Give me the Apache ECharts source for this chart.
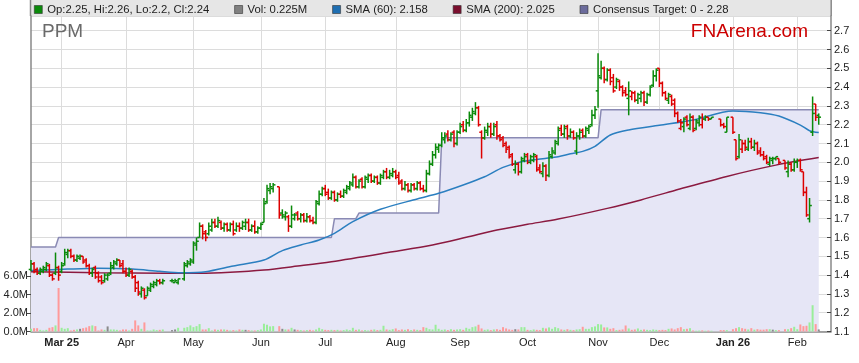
<!DOCTYPE html>
<html><head><meta charset="utf-8">
<script src="https://cdn.jsdelivr.net/npm/echarts@6/dist/echarts.min.js"></script>
<style>html,body{margin:0;padding:0;background:#fff}#c{width:859px;height:363px}</style>
</head><body><div id="c"></div>
<script>
// ---------- data ----------
const ticker = 'PPM';
const firstDate = '2025-02-17';
const categoryCount = 262;
const holidays = ['2025-04-18','2025-04-21','2025-04-25','2025-06-09','2025-12-25','2025-12-26','2026-01-01','2026-01-26'];
const monthTickDates = ['2025-03-03','2025-04-01','2025-05-01','2025-06-02','2025-07-01','2025-08-01','2025-09-01','2025-10-01','2025-11-03','2025-12-01','2026-01-02','2026-02-02'];
const monthTickLabels = ['Mar 25','Apr','May','Jun','Jul','Aug','Sep','Oct','Nov','Dec','Jan 26','Feb'];
const priceTicks = [1.1,1.2,1.3,1.4,1.5,1.6,1.7,1.8,1.9,2.0,2.1,2.2,2.3,2.4,2.5,2.6,2.7];
const volumeTicks = [0,2,4,6];

const openPx = [
1.43,1.46,1.43,1.41,1.42, 1.43,1.45,1.40,1.41,1.44, 1.42,1.46,1.51,1.53,1.50, 1.48,1.49,1.50,1.48,1.45,
1.41,1.44,1.41,1.39,1.37, 1.38,1.41,1.44,1.46,1.48, 1.46,1.42,1.40,1.42,1.39, 1.36,1.30,1.32,1.29,1.32,
1.34,1.35,1.37,1.36,null, null,1.37,1.36,1.36,null, 1.38,1.45,1.46,1.47,1.56, 1.60,1.66,1.63,1.62,1.64,
1.68,1.66,1.68,1.65,1.67, 1.64,1.67,1.64,1.66,1.65, 1.66,1.68,1.64,1.66,1.63, 1.65,1.68,1.79,1.85,1.86,
null,1.87,1.73,1.71,1.71, 1.66,1.70,1.73,1.70,1.72, 1.69,1.71,1.69,1.68,1.78, 1.83,1.86,1.84,1.81,1.84,
1.80,1.83,1.82,1.84,1.86, 1.88,1.92,1.87,1.91,1.87, 1.91,1.93,1.90,1.92,1.89, 1.92,1.95,1.92,1.93,1.95,
1.93,1.90,1.86,1.88,1.85, 1.88,1.86,1.89,1.86,1.85, 1.94,1.99,2.04,2.07,2.09, 2.12,2.15,2.12,2.16,2.10,
2.16,2.20,2.17,2.21,2.24, 2.26,2.29,2.16,2.13,2.16, 2.19,2.15,2.20,2.14,2.13, 2.10,2.08,2.04,1.96,1.99,
1.95,2.01,2.04,2.00,2.01, 2.03,1.97,1.94,1.98,1.93, 2.03,2.05,2.10,2.18,2.15, 2.19,2.14,2.16,2.06,2.14,
2.17,2.14,2.17,2.20,2.25, 2.38,2.45,2.50,2.44,2.49, 2.45,2.40,2.43,2.40,2.38, 2.34,2.35,2.37,2.33,2.34,
2.37,2.32,2.36,2.41,2.46, 2.50,2.42,2.37,2.33,2.35, 2.33,2.26,2.18,2.19,2.24, 2.18,2.24,2.18,2.21,2.20,
2.23,2.24,2.23,null,null, 2.23,2.20,2.16,null,2.24, 2.12,2.03,2.07,2.10,2.07, 2.11,2.08,2.10,2.06,2.04,
2.03,1.99,2.01,2.02,2.02, null,2.01,1.95,1.99,1.96, 2.00,2.01,1.95,1.84,1.70, 2.16,2.31,2.25];
const highPx = [
1.48,1.47,1.44,1.44,1.45, 1.47,1.46,1.41,1.52,1.45, 1.47,1.54,1.54,1.54,1.51, 1.51,1.51,1.50,1.49,1.46,
1.44,1.45,1.42,1.40,1.41, 1.41,1.47,1.48,1.49,1.48, 1.48,1.44,1.44,1.43,1.40, 1.37,1.34,1.33,1.34,1.36,
1.37,1.38,1.38,1.38,null, null,1.38,1.38,1.38,null, 1.47,1.48,1.49,1.58,1.60, 1.68,1.67,1.64,1.68,1.70,
1.70,1.71,1.69,1.68,1.68, 1.68,1.69,1.68,1.68,1.69, 1.70,1.70,1.67,1.69,1.66, 1.68,1.81,1.88,1.89,1.89,
null,1.87,1.75,1.74,1.72, 1.77,1.73,1.74,1.73,1.73, 1.73,1.72,1.71,1.80,1.85, 1.87,1.88,1.86,1.85,1.85,
1.84,1.85,1.86,1.88,1.90, 1.94,1.93,1.91,1.92,1.93, 1.94,1.94,1.93,1.93,1.94, 1.96,1.97,1.96,1.97,1.96,
1.95,1.91,1.90,1.89,1.89, 1.89,1.90,1.90,1.88,1.96, 2.01,2.06,2.10,2.10,2.16, 2.16,2.17,2.16,2.17,2.17,
2.21,2.22,2.23,2.27,2.29, 2.32,2.30,2.17,2.19,2.21, 2.21,2.21,2.22,2.15,2.14, 2.11,2.09,2.05,2.01,2.00,
2.03,2.05,2.05,2.04,2.05, 2.04,1.99,2.00,1.99,2.06, 2.08,2.12,2.19,2.20,2.20, 2.20,2.18,2.17,2.16,2.18,
2.18,2.19,2.20,2.28,2.30, 2.58,2.54,2.51,2.50,2.50, 2.47,2.45,2.44,2.41,2.40, 2.43,2.38,2.38,2.37,2.38,
2.38,2.37,2.41,2.49,2.50, 2.50,2.43,2.38,2.37,2.36, 2.34,2.27,2.23,2.24,2.25, 2.26,2.25,2.23,2.25,2.26,
2.25,2.24,2.24,null,null, 2.23,2.21,2.24,null,2.24, 2.12,2.15,2.12,2.12,2.13, 2.13,2.12,2.11,2.08,2.06,
2.04,2.03,2.03,2.03,2.02, null,2.01,2.01,2.00,2.02, 2.02,2.02,1.95,1.87,1.81, 2.35,2.31,2.26];
const lowPx = [
1.42,1.41,1.40,1.40,1.41, 1.42,1.39,1.37,1.40,1.37, 1.41,1.45,1.49,1.49,1.47, 1.47,1.48,1.46,1.44,1.40,
1.39,1.38,1.36,1.35,1.36, 1.37,1.40,1.43,1.45,1.44, 1.41,1.39,1.39,1.38,1.31, 1.29,1.28,1.27,1.29,1.31,
1.33,1.34,1.35,1.35,null, null,1.36,1.36,1.35,null, 1.37,1.44,1.45,1.46,1.53, 1.60,1.59,1.58,1.61,1.63,
1.65,1.65,1.64,1.63,1.63, 1.63,1.61,1.63,1.63,1.64, 1.64,1.63,1.63,1.62,1.62, 1.64,1.68,1.78,1.83,1.84,
null,1.70,1.70,1.69,1.63, 1.65,1.69,1.69,1.68,1.68, 1.68,1.68,1.67,1.67,1.77, 1.82,1.82,1.80,1.80,1.79,
1.79,1.81,1.81,1.83,1.85, 1.87,1.86,1.86,1.86,1.86, 1.89,1.89,1.89,1.88,1.88, 1.91,1.91,1.91,1.92,1.91,
1.88,1.85,1.85,1.84,1.84, 1.85,1.85,1.85,1.84,1.84, 1.93,1.98,2.02,2.05,2.08, 2.10,2.11,2.11,2.08,2.09,
2.15,2.16,2.16,2.19,2.22, 2.25,2.19,2.02,2.12,2.14, 2.13,2.14,2.12,2.11,2.08, 2.05,2.02,1.98,1.94,1.93,
1.94,2.00,1.99,1.99,2.00, 1.95,1.94,1.92,1.90,1.92, 2.02,2.04,2.09,2.14,2.13, 2.12,2.13,2.12,2.04,2.12,
2.13,2.13,2.15,2.19,2.23, 2.29,2.44,2.42,2.43,2.41, 2.37,2.39,2.38,2.35,2.35, 2.25,2.33,2.32,2.31,2.32,
2.30,2.31,2.35,2.40,2.43, 2.40,2.35,2.33,2.31,2.30, 2.24,2.21,2.17,2.16,2.19, 2.17,2.16,2.17,2.19,2.18,
2.22,2.22,2.23,null,null, 2.19,2.18,2.16,null,2.15, 2.01,2.02,2.05,2.06,2.06, 2.07,2.06,2.04,2.03,2.01,
1.99,1.98,1.99,2.01,1.99, null,1.96,1.92,1.95,1.95, 1.97,1.95,1.82,1.71,1.68, 2.14,2.22,2.20];
const closePx = [
1.46,1.42,1.41,1.43,1.44, 1.46,1.40,1.38,1.44,1.40, 1.45,1.52,1.53,1.50,1.48, 1.50,1.50,1.47,1.45,1.41,
1.43,1.39,1.37,1.36,1.40, 1.40,1.45,1.47,1.48,1.45, 1.42,1.40,1.43,1.39,1.33, 1.31,1.33,1.28,1.33,1.35,
1.36,1.37,1.36,1.37,null, null,1.37,1.37,1.38,null, 1.46,1.47,1.48,1.57,1.58, 1.66,1.62,1.60,1.66,1.68,
1.66,1.69,1.65,1.67,1.64, 1.67,1.62,1.66,1.65,1.68, 1.68,1.64,1.66,1.63,1.65, 1.67,1.78,1.86,1.87,1.88,
null,1.72,1.72,1.73,1.66, 1.72,1.72,1.70,1.72,1.69, 1.71,1.69,1.68,1.79,1.83, 1.86,1.83,1.81,1.84,1.80,
1.83,1.82,1.85,1.87,1.89, 1.92,1.87,1.90,1.87,1.92, 1.93,1.90,1.92,1.89,1.93, 1.95,1.92,1.94,1.95,1.92,
1.89,1.86,1.88,1.85,1.88, 1.86,1.89,1.86,1.85,1.94, 1.99,2.04,2.08,2.09,2.13, 2.14,2.12,2.15,2.10,2.16,
2.19,2.17,2.21,2.25,2.27, 2.29,2.20,2.13,2.17,2.19, 2.15,2.19,2.14,2.12,2.09, 2.07,2.03,1.99,1.99,1.95,
2.02,2.03,2.00,2.03,2.04, 1.96,1.95,1.98,1.93,2.04, 2.06,2.11,2.17,2.15,2.18, 2.14,2.16,2.13,2.14,2.16,
2.14,2.18,2.19,2.25,2.28, 2.46,2.50,2.44,2.49,2.43, 2.38,2.44,2.40,2.37,2.36, 2.38,2.37,2.33,2.36,2.37,
2.32,2.36,2.40,2.46,2.49, 2.42,2.37,2.34,2.36,2.31, 2.26,2.22,2.21,2.23,2.20, 2.24,2.17,2.22,2.24,2.23,
2.24,2.23,2.24,null,null, 2.20,2.19,2.24,null,2.16, 2.02,2.12,2.10,2.08,2.11, 2.08,2.10,2.05,2.04,2.02,
2.00,2.02,2.02,2.03,2.00, null,1.97,1.99,1.96,2.00, 2.01,1.96,1.84,1.72,1.77, 2.26,2.24,2.24];
const volumeM = [
0.29,0.36,0.36,0.18,0.11, 0.18,0.40,0.47,0.66,4.70, 0.40,0.29,0.36,0.11,0.18, 0.22,0.29,0.36,0.43,0.58,
0.66,0.58,0.11,0.22,0.18, 0.55,0.22,0.22,0.18,0.11, 0.22,0.22,0.11,0.29,1.20, 0.66,0.29,0.98,0.11,0.11,
0.22,0.15,0.18,0.22,null, null,0.15,0.22,0.40,null, 0.40,0.47,0.66,0.47,0.58, 0.80,0.22,0.22,0.36,0.11,
0.22,0.18,0.22,0.22,0.18, 0.11,0.15,0.11,0.22,0.18, 0.18,0.15,0.11,0.11,0.15, 0.22,0.84,0.73,0.55,0.58,
null,0.58,0.29,0.22,0.22, 0.40,0.22,0.18,0.15,0.11, 0.15,0.18,0.11,0.22,0.40, 0.25,0.18,0.15,0.18,0.15,
0.18,0.11,0.15,0.22,0.15, 0.40,0.18,0.22,0.11,0.15, 0.11,0.18,0.22,0.15,0.18, 0.62,0.22,0.18,0.25,0.33,
0.15,0.22,0.18,0.25,0.15, 0.22,0.18,0.15,0.47,0.40, 0.25,0.22,0.73,0.29,0.18, 0.22,0.15,0.25,0.18,0.22,
0.25,0.18,0.40,0.29,0.47, 0.55,0.73,0.33,0.18,0.22, 0.15,0.22,0.25,0.18,0.47, 0.33,0.22,0.18,0.25,0.22,
0.47,0.47,0.18,0.15,0.22, 0.18,0.15,0.40,0.33,0.44, 0.29,0.47,0.36,0.22,0.18, 0.25,0.18,0.15,0.22,0.25,
0.51,0.29,0.29,0.47,0.55, 0.80,0.76,0.44,0.44,0.29, 0.36,0.15,0.18,0.22,0.65, 0.33,0.18,0.22,0.33,0.18,
0.22,0.18,0.15,0.22,0.18, 0.15,0.18,0.15,0.29,0.33, 0.22,0.36,0.47,0.25,0.29, 0.36,0.11,0.08,0.10,0.12,
0.08,0.10,0.08,null,null, 0.15,0.15,0.15,null,0.25, 0.36,0.47,0.36,0.29,0.22, 0.36,0.20,0.25,0.20,0.20,
0.25,0.25,0.20,0.15,0.15, null,0.25,0.25,0.36,0.51, 0.25,0.76,0.58,0.62,0.98, 2.84,0.80,0.225];
const sma60 = [[0,1.425],[12,1.432],[22,1.436],[33,1.432],[42,1.42],[49,1.413],[57,1.418],[66,1.448],[76,1.48],[82,1.53],[88,1.56],[94,1.587],[99,1.622],[105,1.684],[114,1.75],[126,1.805],[133,1.835],[141,1.879],[148,1.923],[154,1.973],[160,2.003],[167,2.019],[172,2.03],[176,2.045],[180,2.058],[184,2.085],[189,2.145],[195,2.172],[205,2.197],[216,2.225],[229,2.273],[238,2.264],[244,2.246],[251,2.198],[254,2.168],[257,2.158]];
const sma200 = [[0,1.418],[22,1.413],[44,1.41],[55,1.41],[65,1.415],[76,1.427],[87,1.448],[98,1.471],[118,1.524],[131,1.56],[142,1.601],[152,1.64],[162,1.67],[172,1.698],[188,1.755],[199,1.80],[210,1.85],[227,1.925],[243,1.985],[257,2.025]];
const consensusTarget = [[0,1.55],[8,1.55],[9,1.60],[98,1.60],[99,1.70],[106,1.70],[107,1.73],[133,1.73],[134,2.13],[185,2.13],[186,2.28],[257,2.28]];
const consensusLow = 0;

// ---------- build ----------
const dates = [];
{ const d = new Date(firstDate + 'T00:00:00Z');
  while (dates.length < categoryCount) {
    const w = d.getUTCDay();
    if (w !== 0 && w !== 6) dates.push(d.toISOString().slice(0, 10));
    d.setUTCDate(d.getUTCDate() + 1);
  } }
const tickSet = new Set(monthTickDates);
const FONT = "'Liberation Sans', Arial, sans-serif";
const UP = '#0a8a0a', DOWN = '#dd0000';

const ohlcData = [], volData = [];
let prevClose = null;
for (let i = 0; i < closePx.length; i++) {
  if (closePx[i] == null) continue;
  const c = closePx[i];
  const ref = prevClose == null ? openPx[i] : prevClose;
  const dir = c > ref ? 1 : (c < ref ? -1 : 0);
  prevClose = c;
  ohlcData.push([i, openPx[i], highPx[i], lowPx[i], c, dir]);
  volData.push({ value: [i, volumeM[i]], itemStyle: { color: dir > 0 ? '#99ee99' : (dir < 0 ? '#ff9a9a' : '#8a8a8a') } });
}
const last = closePx.length - 1;
const legendText = {
  ohlc: `Op:${openPx[last]}, Hi:${highPx[last]}, Lo:${lowPx[last]}, Cl:${closePx[last]}`,
  vol: `Vol: ${volumeM[last]}M`,
  sma60: `SMA (60): ${sma60[sma60.length - 1][1]}`,
  sma200: `SMA (200): ${sma200[sma200.length - 1][1]}`,
  target: `Consensus Target: ${consensusLow} - ${consensusTarget[consensusTarget.length - 1][1]}`
};

function renderOHLC(params, api) {
  const i = api.value(0);
  const o = api.coord([i, api.value(1)]);
  const h = api.coord([i, api.value(2)]);
  const l = api.coord([i, api.value(3)]);
  const c = api.coord([i, api.value(4)]);
  const col = api.value(5) >= 0 ? UP : DOWN;
  const st = { stroke: col, lineWidth: 1.5 };
  return { type: 'group', children: [
    { type: 'line', shape: { x1: h[0], y1: h[1], x2: l[0], y2: l[1] }, style: st },
    { type: 'line', shape: { x1: o[0] - 2.3, y1: o[1], x2: o[0], y2: o[1] }, style: st },
    { type: 'line', shape: { x1: c[0], y1: c[1], x2: c[0] + 2.3, y2: c[1] }, style: st }
  ] };
}

const chart = echarts.init(document.getElementById('c'), null, { renderer: 'canvas' });
const L = 31, R = 28, TOP = 16, BOT = 31.5;
const PMAX = 1.1 + 315.5 / 188;

chart.setOption({
  animation: false,
  backgroundColor: '#fff',
  textStyle: { fontFamily: FONT },
  graphic: [
    { type: 'rect', left: 30, top: 0, shape: { width: 801, height: 16 }, style: { fill: '#e6e6e6' }, z: -1 },
    { type: 'line', shape: { x1: 30.5, y1: 0, x2: 30.5, y2: 16 }, style: { stroke: '#888', lineWidth: 1.5 }, z: -1 },
    { type: 'line', shape: { x1: 831.2, y1: 0, x2: 831.2, y2: 16 }, style: { stroke: '#888', lineWidth: 1.5 }, z: -1 }
  ],
  title: [
    { text: ticker, left: 42, top: 22.5, padding: 0, textStyle: { fontFamily: FONT, fontSize: 19, fontWeight: 'normal', color: '#6a6a6a' } },
    { text: 'FNArena.com', right: 51, top: 22.5, padding: 0, textStyle: { fontFamily: FONT, fontSize: 19, fontWeight: 'normal', color: '#cc0000' } }
  ],
  legend: {
    left: 34, top: 4, padding: 0, itemGap: 25, itemWidth: 8, itemHeight: 8, icon: 'rect',
    textStyle: { fontFamily: FONT, fontSize: 11.3, color: '#222', padding: [1, 0, 0, 0] },
    formatter: n => legendText[n],
    selectedMode: false,
    data: [
      { name: 'ohlc', itemStyle: { color: UP, borderColor: '#333', borderWidth: 0.6 } },
      { name: 'vol', itemStyle: { color: '#808080', borderColor: '#333', borderWidth: 0.6 } },
      { name: 'sma60', itemStyle: { color: '#1f6fb2', borderColor: '#333', borderWidth: 0.6 } },
      { name: 'sma200', itemStyle: { color: '#7a0f2e', borderColor: '#333', borderWidth: 0.6 } },
      { name: 'target', itemStyle: { color: '#6c6c9c', borderColor: '#333', borderWidth: 0.6 } }
    ]
  },
  grid: [
    { left: L, right: R, top: TOP, bottom: BOT },
    { left: L, right: R, top: 331.5 - 55.5, bottom: BOT }
  ],
  xAxis: [
    { type: 'category', gridIndex: 0, data: dates, boundaryGap: false,
      axisLine: { show: true, onZero: false, lineStyle: { color: '#888', width: 1.5 } },
      axisTick: { show: false },
      axisLabel: { interval: (idx, val) => tickSet.has(val), margin: 6, color: '#222', fontSize: 11, fontFamily: FONT,
        formatter: v => { const k = monthTickDates.indexOf(v); if (k < 0) return ''; const t = monthTickLabels[k]; return t.indexOf(' ') > 0 ? '{b|' + t + '}' : t; },
        rich: { b: { fontWeight: 'bold', fontSize: 11, color: '#222', fontFamily: FONT } } },
      splitLine: { show: true, interval: (idx, val) => tickSet.has(val), lineStyle: { color: '#dcdcdc', width: 1 } } },
    { type: 'category', gridIndex: 1, data: dates, boundaryGap: false, show: false }
  ],
  yAxis: [
    { type: 'value', gridIndex: 0, position: 'right', min: 1.1, max: PMAX, interval: 0.1,
      axisLine: { show: true, lineStyle: { color: '#888', width: 1.5 } },
      axisTick: { show: true, inside: true, length: 4, lineStyle: { color: '#444' } },
      axisLabel: { showMaxLabel: false, color: '#222', fontSize: 11, fontFamily: FONT, margin: 3, formatter: v => v.toFixed(1) },
      splitLine: { show: true, lineStyle: { color: '#dcdcdc', width: 1 } } },
    { type: 'value', gridIndex: 0, position: 'left', min: 0, max: 1,
      axisLine: { show: true, onZero: false, lineStyle: { color: '#888', width: 1.5 } },
      axisTick: { show: false }, axisLabel: { show: false }, splitLine: { show: false } },
    { type: 'value', gridIndex: 1, position: 'left', min: volumeTicks[0], max: volumeTicks[volumeTicks.length - 1], interval: 2,
      axisLine: { show: false },
      axisTick: { show: true, length: 4, lineStyle: { color: '#444' } },
      axisLabel: { color: '#222', fontSize: 11, fontFamily: FONT, margin: 3, formatter: v => v.toFixed(1) + 'M' },
      splitLine: { show: false } }
  ],
  series: [
    { name: 'target', type: 'line', xAxisIndex: 0, yAxisIndex: 0, data: consensusTarget, showSymbol: false, z: 1,
      lineStyle: { color: '#8a8ab4', width: 1.5 }, itemStyle: { color: '#6c6c9c' },
      areaStyle: { color: '#e6e6f6', opacity: 1, origin: 'start' } },
    { name: 'vol', type: 'bar', xAxisIndex: 1, yAxisIndex: 2, data: volData, barWidth: 2, z: 2,
      itemStyle: { color: '#808080' } },
    { name: 'sma200', type: 'line', xAxisIndex: 0, yAxisIndex: 0, data: sma200, showSymbol: false, smooth: 0.3, z: 3,
      lineStyle: { color: '#8b1a40', width: 1.5 }, itemStyle: { color: '#7a0f2e' } },
    { name: 'sma60', type: 'line', xAxisIndex: 0, yAxisIndex: 0, data: sma60, showSymbol: false, smooth: 0.3, z: 3,
      lineStyle: { color: '#2b7fc0', width: 1.5 }, itemStyle: { color: '#1f6fb2' } },
    { name: 'ohlc', type: 'custom', xAxisIndex: 0, yAxisIndex: 0, data: ohlcData, renderItem: renderOHLC, z: 4,
      encode: { x: 0, y: [1, 2, 3, 4] }, itemStyle: { color: UP } }
  ]
});
</script>
</body></html>
